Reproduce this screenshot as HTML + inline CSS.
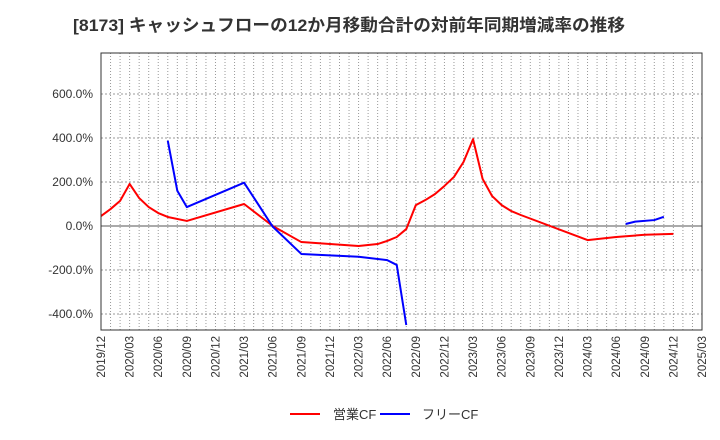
<!DOCTYPE html>
<html><head><meta charset="utf-8">
<style>
html,body{margin:0;padding:0;background:#fff;}
svg{display:block;font-family:"Liberation Sans","Noto Sans CJK JP",sans-serif;}
</style></head>
<body>
<svg id="chart" width="720" height="440" viewBox="0 0 720 440">
<text x="349" y="31" text-anchor="middle" font-size="17" font-weight="bold" fill="#333" textLength="552" lengthAdjust="spacingAndGlyphs">[8173]  キャッシュフローの12か月移動合計の対前年同期増減率の推移</text>
<g id="grid"></g>
<g id="yticks"></g>
<g id="xticks"></g>
<g id="series"></g>
<rect x="101" y="53" width="601" height="277" fill="none" stroke="#333" stroke-width="1"/>
<g>
<g>
<line x1="290" y1="414" x2="320" y2="414" stroke="#ff0000" stroke-width="2"/>
<text x="333" y="419" font-size="13" fill="#333">営業CF</text></g>
<g>
<line x1="380" y1="414" x2="410" y2="414" stroke="#0000ff" stroke-width="2"/>
<text x="422" y="419" font-size="13" fill="#333">フリーCF</text></g>
</g>
</svg>
<script>
const xLabels=["2019/12","2020/03","2020/06","2020/09","2020/12","2021/03","2021/06","2021/09","2021/12","2022/03","2022/06","2022/09","2022/12","2023/03","2023/06","2023/09","2023/12","2024/03","2024/06","2024/09","2024/12","2025/03"];
const yTicks=[-400,-200,0,200,400,600];
const opMonths=[0,1,2,3,4,5,6,7,9,15,18,21,27,29,30,31,32,33,34,35,36,37,38,39,40,41,42,43,44,51,54,57,60];
const opValues=[45,77,114,191,127,86,59,41,23,100,0,-73,-91,-82,-68,-50,-14,95,118,145,182,223,291,395,214,136,95,68,50,-64,-50,-40,-36];
const fcfSeg1Months=[7,8,9,15,18,21,27,30,31,32];
const fcfSeg1Values=[388,160,86,197,-3,-127,-140,-155,-177,-450];
const fcfSeg2Months=[55,56,58,59];
const fcfSeg2Values=[9,20,27,42];

const X0=101,X1=702,Y0=53,Y1=330,NM=63;
const xs=m=>X0+(X1-X0)*m/NM;
const ys=v=>226-v*44/200;
const NS="http://www.w3.org/2000/svg";
function mk(tag,attrs,parent){const e=document.createElementNS(NS,tag);for(const k in attrs)e.setAttribute(k,attrs[k]);parent.appendChild(e);return e;}
const grid=document.getElementById('grid'),yt=document.getElementById('yticks'),xt=document.getElementById('xticks'),ser=document.getElementById('series');
for(let m=1;m<NM;m++){
  const l=mk('line',{x1:xs(m),x2:xs(m),y1:Y0,y2:Y1,stroke:'#999','stroke-width':1,'stroke-dasharray':'1,2'},grid);
  
  
}
yTicks.forEach(v=>{
  const y=ys(v);
  const l=mk('line',{x1:X0,x2:X1,y1:y,y2:y,stroke:v===0?'#555':'#999','stroke-width':1,'stroke-dasharray':v===0?'none':'2,2'},grid);
  
  
  const t=mk('text',{x:93,y:y+4,'text-anchor':'end','font-size':12,fill:'#333'},yt);
  t.textContent=v.toFixed(1)+'%';
  
  
});
xLabels.forEach((s,i)=>{
  const x=xs(i*3);
  const t=mk('text',{x:0,y:0,'text-anchor':'end','font-size':11.5,fill:'#333',transform:`translate(${x+4},336) rotate(-90)`},xt);
  t.textContent=s;
  
  
});
function line(ms,vs,color,name){
  const p=mk('polyline',{points:ms.map((m,i)=>xs(m)+','+ys(vs[i])).join(' '),fill:'none',stroke:color,'stroke-width':2,'stroke-linejoin':'round'},ser);
  
  
}
line(opMonths,opValues,'#ff0000','operating-cf-line');
line(fcfSeg1Months,fcfSeg1Values,'#0000ff','free-cf-line-1');
line(fcfSeg2Months,fcfSeg2Values,'#0000ff','free-cf-line-2');
</script>
</body></html>
